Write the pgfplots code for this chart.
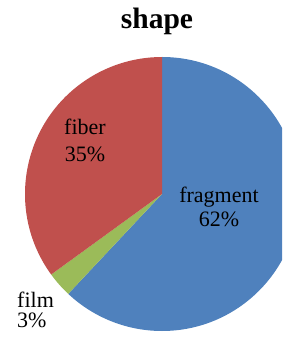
\documentclass[border=0pt]{standalone}
\usepackage{pgfplots}
\usepackage{pgfplotstable}
\pgfplotsset{compat=1.18}
\usepackage{fontspec}
\setmainfont{Liberation Serif}
\definecolor{fragblue}{HTML}{4F81BD}
\definecolor{filmgreen}{HTML}{9BBB59}
\definecolor{fiberred}{HTML}{C0504D}
\pgfplotstableread{
label value color
fragment 62 fragblue
film 3 filmgreen
fiber 35 fiberred
}\piedata
\begin{document}
\begin{tikzpicture}
\useasboundingbox (0,0) rectangle (282pt,339pt);
\begin{axis}[scale only axis, width=282pt, height=339pt,
  xmin=0, xmax=282, ymin=0, ymax=339, hide axis, clip=true,
  at={(0,0)}, anchor=south west]
\def\ang{90}
\pgfplotsforeachungrouped \i in {0,1,2}{%
  \pgfplotstablegetelem{\i}{value}\of\piedata \let\val\pgfplotsretval
  \pgfplotstablegetelem{\i}{color}\of\piedata \let\col\pgfplotsretval
  \pgfmathsetmacro{\endang}{\ang - 3.6*\val}%
  \edef\temp{\noexpand\fill[\col] (axis cs:162,145) -- ++(\ang:137pt) arc[start angle=\ang, end angle=\endang, radius=137pt] -- cycle;}%
  \temp
  \global\let\ang\endang
}
\node[anchor=base, font=\bfseries\fontsize{29.5}{34}\selectfont] at (axis cs:157,310) {shape};
\node[anchor=base, font=\fontsize{22}{24}\selectfont] at (axis cs:85,204) {fiber};
\node[anchor=base, font=\fontsize{22}{24}\selectfont] at (axis cs:85,177) {35\%};
\node[anchor=base, font=\fontsize{22}{24}\selectfont] at (axis cs:219,136) {fragment};
\node[anchor=base, font=\fontsize{22}{24}\selectfont] at (axis cs:219,112) {62\%};
\node[anchor=base west, inner xsep=0pt, font=\fontsize{22}{24}\selectfont] at (axis cs:17,32) {film};
\node[anchor=base west, inner xsep=0pt, font=\fontsize{22}{24}\selectfont] at (axis cs:17,12) {3\%};
\end{axis}
\end{tikzpicture}
\end{document}
